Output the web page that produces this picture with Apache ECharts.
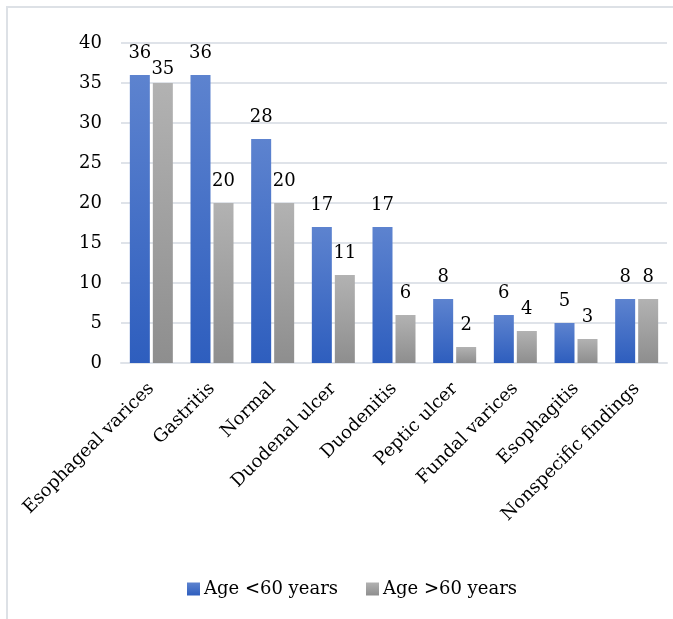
<!DOCTYPE html>
<html>
<head>
<meta charset="utf-8">
<script src="https://cdn.jsdelivr.net/npm/echarts@6/dist/echarts.min.js"></script>
<style>
  html, body { margin: 0; padding: 0; background: #fff; }
  #chart { width: 673px; height: 619px; }
</style>
</head>
<body>
<div id="chart"></div>
<script>
  // values
  const categories = [
    "Esophageal varices", "Gastritis", "Normal", "Duodenal ulcer", "Duodenitis",
    "Peptic ulcer", "Fundal varices", "Esophagitis", "Nonspecific findings"
  ];
  const under60 = [36, 36, 28, 17, 17, 8, 6, 5, 8];
  const over60 = [35, 20, 20, 11, 6, 2, 4, 3, 8];
  const seriesNames = ["Age <60 years", "Age >60 years"];
  const yTicks = { min: 0, max: 40, interval: 5 };

  const font = "DejaVu Serif";
  const gridColor = "#dfe3e9";

  const grad = (top, bottom) => ({
    type: "linear", x: 0, y: 0, x2: 0, y2: 1,
    colorStops: [{ offset: 0, color: top }, { offset: 1, color: bottom }]
  });
  const blue = grad("#5d83cf", "#2e5ebe");
  const gray = grad("#b2b2b2", "#8e8e8e");

  const labelStyle = {
    show: true,
    position: "top",
    distance: 13,
    color: "#000",
    fontFamily: font,
    fontSize: 18
  };

  // the first grey label sits lower in the original so it doesn't hit the "36"
  const over60Data = over60.map((v, i) =>
    i === 0 ? { value: v, label: { distance: 5 } } : v
  );

  const chart = echarts.init(document.getElementById("chart"));
  chart.setOption({
    animation: false,
    backgroundColor: "#fff",
    textStyle: { fontFamily: font },
    graphic: [
      {
        type: "polyline",
        shape: { points: [[7, 619], [7, 7], [673, 7]] },
        style: { stroke: "#dde1e6", lineWidth: 2, fill: null }
      }
    ],
    grid: { left: 121, right: 6, top: 43, bottom: 256 },
    legend: {
      left: 182,
      top: 575,
      itemWidth: 13,
      itemHeight: 13,
      itemGap: 28,
      icon: "rect",
      textStyle: { color: "#000", fontFamily: font, fontSize: 18, padding: [0, 0, 0, -1] },
      data: seriesNames
    },
    xAxis: {
      type: "category",
      data: categories,
      axisLine: { lineStyle: { color: gridColor, width: 2 } },
      axisTick: { show: false },
      axisLabel: {
        rotate: 45,
        interval: 0,
        margin: 23,
        color: "#000",
        fontFamily: font,
        fontSize: 18
      }
    },
    yAxis: {
      type: "value",
      min: yTicks.min,
      max: yTicks.max,
      interval: yTicks.interval,
      axisLine: { show: false },
      axisTick: { show: false },
      splitLine: { lineStyle: { color: gridColor, width: 2 } },
      axisLabel: { margin: 19, color: "#000", fontFamily: font, fontSize: 18 }
    },
    series: [
      {
        name: seriesNames[0],
        type: "bar",
        barWidth: 20,
        barGap: "15%",
        itemStyle: { color: blue },
        label: labelStyle,
        data: under60
      },
      {
        name: seriesNames[1],
        type: "bar",
        barWidth: 20,
        barGap: "15%",
        itemStyle: { color: gray },
        label: labelStyle,
        data: over60Data
      }
    ]
  });
</script>
</body>
</html>
